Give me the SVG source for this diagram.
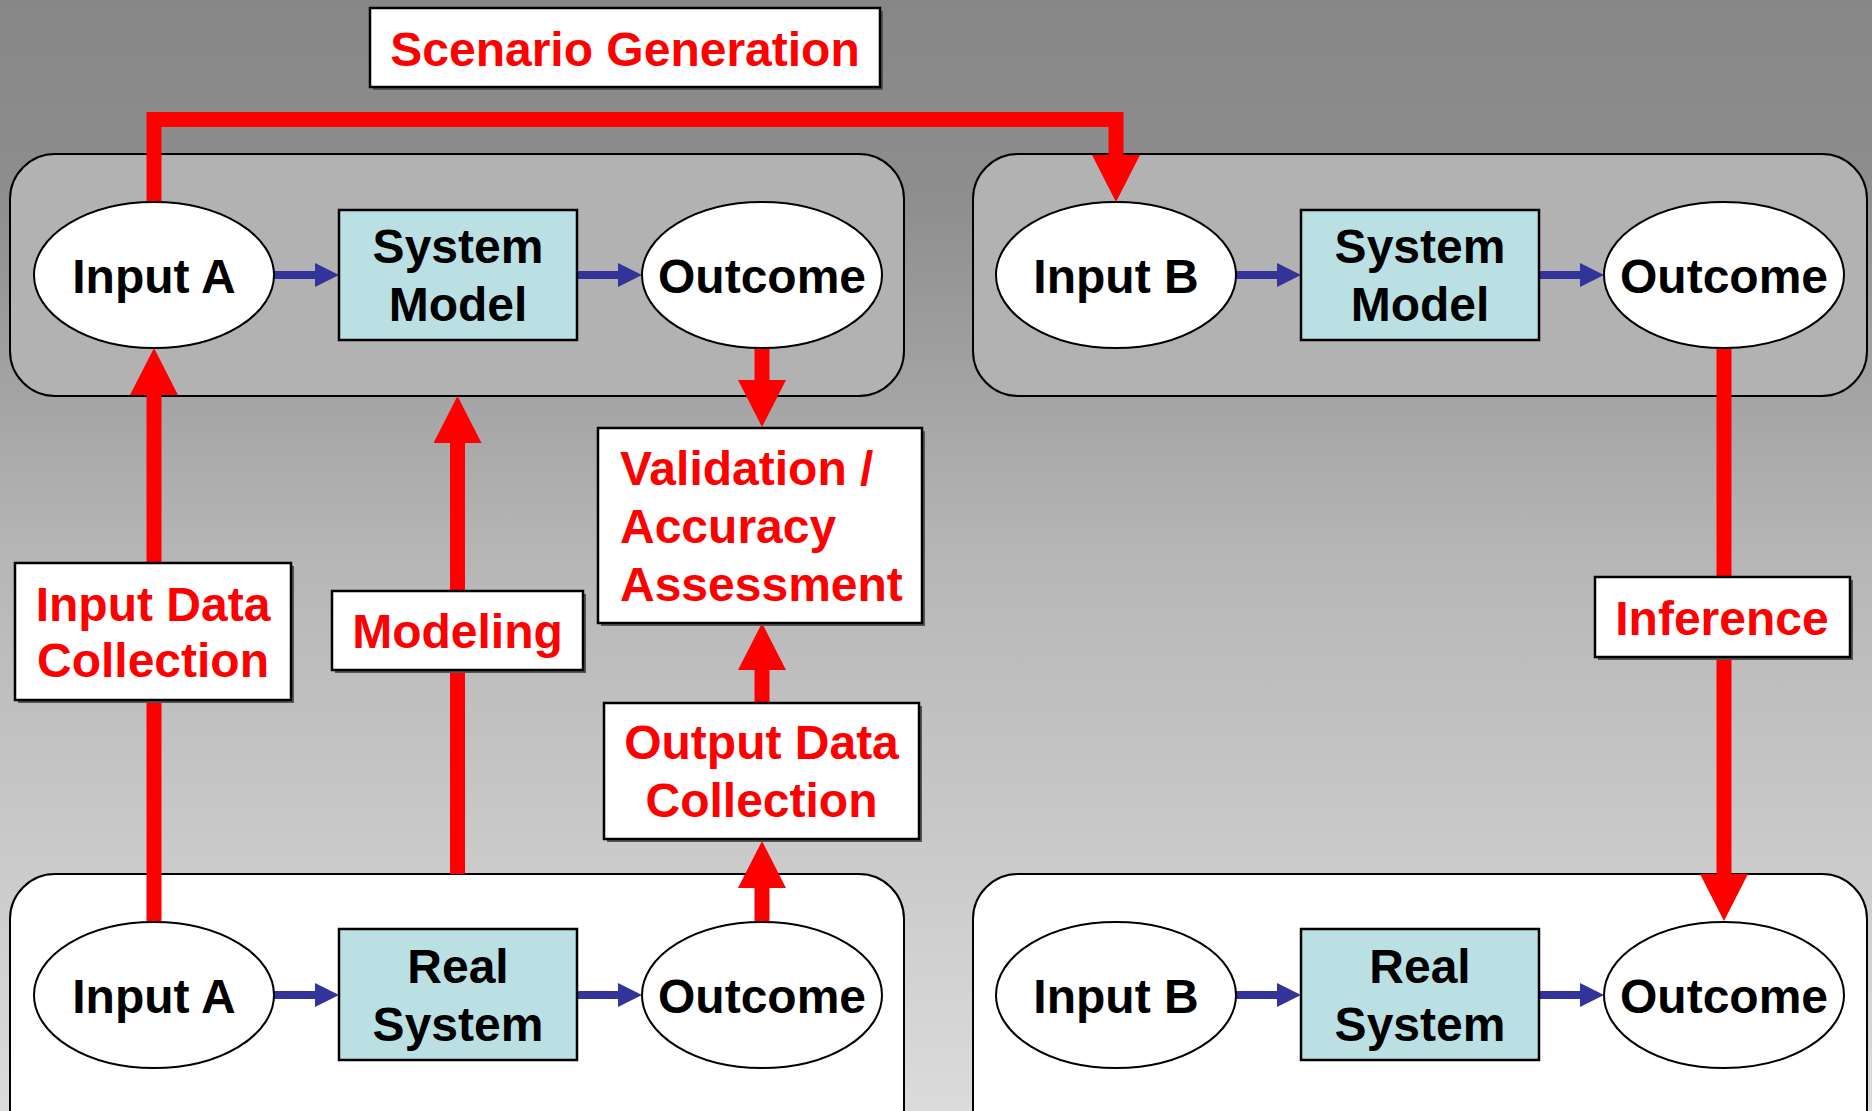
<svg xmlns="http://www.w3.org/2000/svg" width="1872" height="1111" viewBox="0 0 1872 1111">
<defs>
<linearGradient id="bg" x1="0" y1="0" x2="0" y2="1">
<stop offset="0" stop-color="#878787"/>
<stop offset="0.18" stop-color="#8e8e8e"/>
<stop offset="0.5" stop-color="#b6b6b6"/>
<stop offset="1" stop-color="#dbdbdb"/>
</linearGradient>
<marker id="redHead" viewBox="0 0 47 48" markerWidth="47" markerHeight="48" refX="2" refY="24" markerUnits="userSpaceOnUse" orient="auto">
<path d="M0,0 L47,24 L0,48 z" fill="#ff0000"/>
</marker>
<marker id="blueHead" viewBox="0 0 24 24" markerWidth="24" markerHeight="24" refX="2" refY="12" markerUnits="userSpaceOnUse" orient="auto">
<path d="M0,0 L24,12 L0,24 z" fill="#333399"/>
</marker>
</defs>
<style>
.grpTop{fill:#b2b2b2;stroke:#000;stroke-width:2}
.grpBot{fill:#ffffff;stroke:#000;stroke-width:2}
.ell{fill:#ffffff;stroke:#000;stroke-width:2}
.sys{fill:#bbe0e3;stroke:#000;stroke-width:2.5}
.lbl{fill:#ffffff;stroke:#000;stroke-width:2.5}
.shadow{fill:#555555}
.red{fill:none;stroke:#ff0000;stroke-width:15;stroke-linejoin:miter;marker-end:url(#redHead)}
.blue{fill:none;stroke:#333399;stroke-width:8;marker-end:url(#blueHead)}
.bt{font-family:"Liberation Sans",Arial,sans-serif;font-weight:bold;font-size:48px;fill:#000;text-anchor:middle}
.rt{font-family:"Liberation Sans",Arial,sans-serif;font-weight:bold;font-size:48px;fill:#ff0000;text-anchor:middle}
</style>
<rect x="0" y="0" width="1872" height="1111" fill="url(#bg)"/>

<g id="containers">
<rect id="groupModelA" class="grpTop" x="10" y="154" width="894" height="242" rx="45" ry="45"/>
<rect id="groupModelB" class="grpTop" x="973" y="154" width="894" height="242" rx="45" ry="45"/>
<rect id="groupRealA" class="grpBot" x="10" y="874" width="894" height="280" rx="45" ry="45"/>
<rect id="groupRealB" class="grpBot" x="973" y="874" width="894" height="280" rx="45" ry="45"/>
</g>

<g id="connectors">
<path class="red" d="M154,202 V119.5 H1116 V157"/>
<path class="red" d="M154,922 V393"/>
<path class="red" d="M457.5,874 V441"/>
<path class="red" d="M762,348 V382"/>
<path class="red" d="M762,703 V668"/>
<path class="red" d="M762,922 V886"/>
<path class="red" d="M1724,348 V876"/>
<path class="blue" d="M273,275 H317"/>
<path class="blue" d="M577,275 H620"/>
<path class="blue" d="M1235,275 H1279"/>
<path class="blue" d="M1539,275 H1582"/>
<path class="blue" d="M273,995 H317"/>
<path class="blue" d="M577,995 H620"/>
<path class="blue" d="M1235,995 H1279"/>
<path class="blue" d="M1539,995 H1582"/>
</g>

<g id="inputA_model"><ellipse class="ell" cx="154" cy="275" rx="120" ry="73"/><text class="bt" x="154" y="293">Input A</text></g>
<g id="systemModel_A"><rect class="sys" x="339" y="210" width="238" height="130"/><text class="bt" x="458" y="263">System</text><text class="bt" x="458" y="321">Model</text></g>
<g id="outcome_modelA"><ellipse class="ell" cx="762" cy="275" rx="120" ry="73"/><text class="bt" x="762" y="293">Outcome</text></g>

<g id="inputB_model"><ellipse class="ell" cx="1116" cy="275" rx="120" ry="73"/><text class="bt" x="1116" y="293">Input B</text></g>
<g id="systemModel_B"><rect class="sys" x="1301" y="210" width="238" height="130"/><text class="bt" x="1420" y="263">System</text><text class="bt" x="1420" y="321">Model</text></g>
<g id="outcome_modelB"><ellipse class="ell" cx="1724" cy="275" rx="120" ry="73"/><text class="bt" x="1724" y="293">Outcome</text></g>

<g id="inputA_real"><ellipse class="ell" cx="154" cy="995" rx="120" ry="73"/><text class="bt" x="154" y="1013">Input A</text></g>
<g id="realSystem_A"><rect class="sys" x="339" y="929" width="238" height="131"/><text class="bt" x="458" y="983">Real</text><text class="bt" x="458" y="1041">System</text></g>
<g id="outcome_realA"><ellipse class="ell" cx="762" cy="995" rx="120" ry="73"/><text class="bt" x="762" y="1013">Outcome</text></g>

<g id="inputB_real"><ellipse class="ell" cx="1116" cy="995" rx="120" ry="73"/><text class="bt" x="1116" y="1013">Input B</text></g>
<g id="realSystem_B"><rect class="sys" x="1301" y="929" width="238" height="131"/><text class="bt" x="1420" y="983">Real</text><text class="bt" x="1420" y="1041">System</text></g>
<g id="outcome_realB"><ellipse class="ell" cx="1724" cy="995" rx="120" ry="73"/><text class="bt" x="1724" y="1013">Outcome</text></g>

<g id="lbl_scenario"><rect class="shadow" x="373" y="11" width="510" height="79"/><rect class="lbl" x="370" y="8" width="510" height="79"/><text class="rt" x="625" y="66">Scenario Generation</text></g>
<g id="lbl_inputData"><rect class="shadow" x="18" y="566" width="276" height="137"/><rect class="lbl" x="15" y="563" width="276" height="137"/><text class="rt" x="153" y="621">Input Data</text><text class="rt" x="153" y="677">Collection</text></g>
<g id="lbl_modeling"><rect class="shadow" x="335" y="594" width="251" height="79"/><rect class="lbl" x="332" y="591" width="251" height="79"/><text class="rt" x="457.5" y="648">Modeling</text></g>
<g id="lbl_validation"><rect class="shadow" x="601" y="431" width="324" height="195"/><rect class="lbl" x="598" y="428" width="324" height="195"/><text class="rt" style="text-anchor:start" x="620" y="485">Validation /</text><text class="rt" style="text-anchor:start" x="620" y="543">Accuracy</text><text class="rt" style="text-anchor:start" x="620" y="601">Assessment</text></g>
<g id="lbl_outputData"><rect class="shadow" x="607" y="706" width="315" height="136"/><rect class="lbl" x="604" y="703" width="315" height="136"/><text class="rt" x="761.5" y="759">Output Data</text><text class="rt" x="761.5" y="817">Collection</text></g>
<g id="lbl_inference"><rect class="shadow" x="1598" y="580" width="255" height="80"/><rect class="lbl" x="1595" y="577" width="255" height="80"/><text class="rt" x="1722" y="635">Inference</text></g>
</svg>
